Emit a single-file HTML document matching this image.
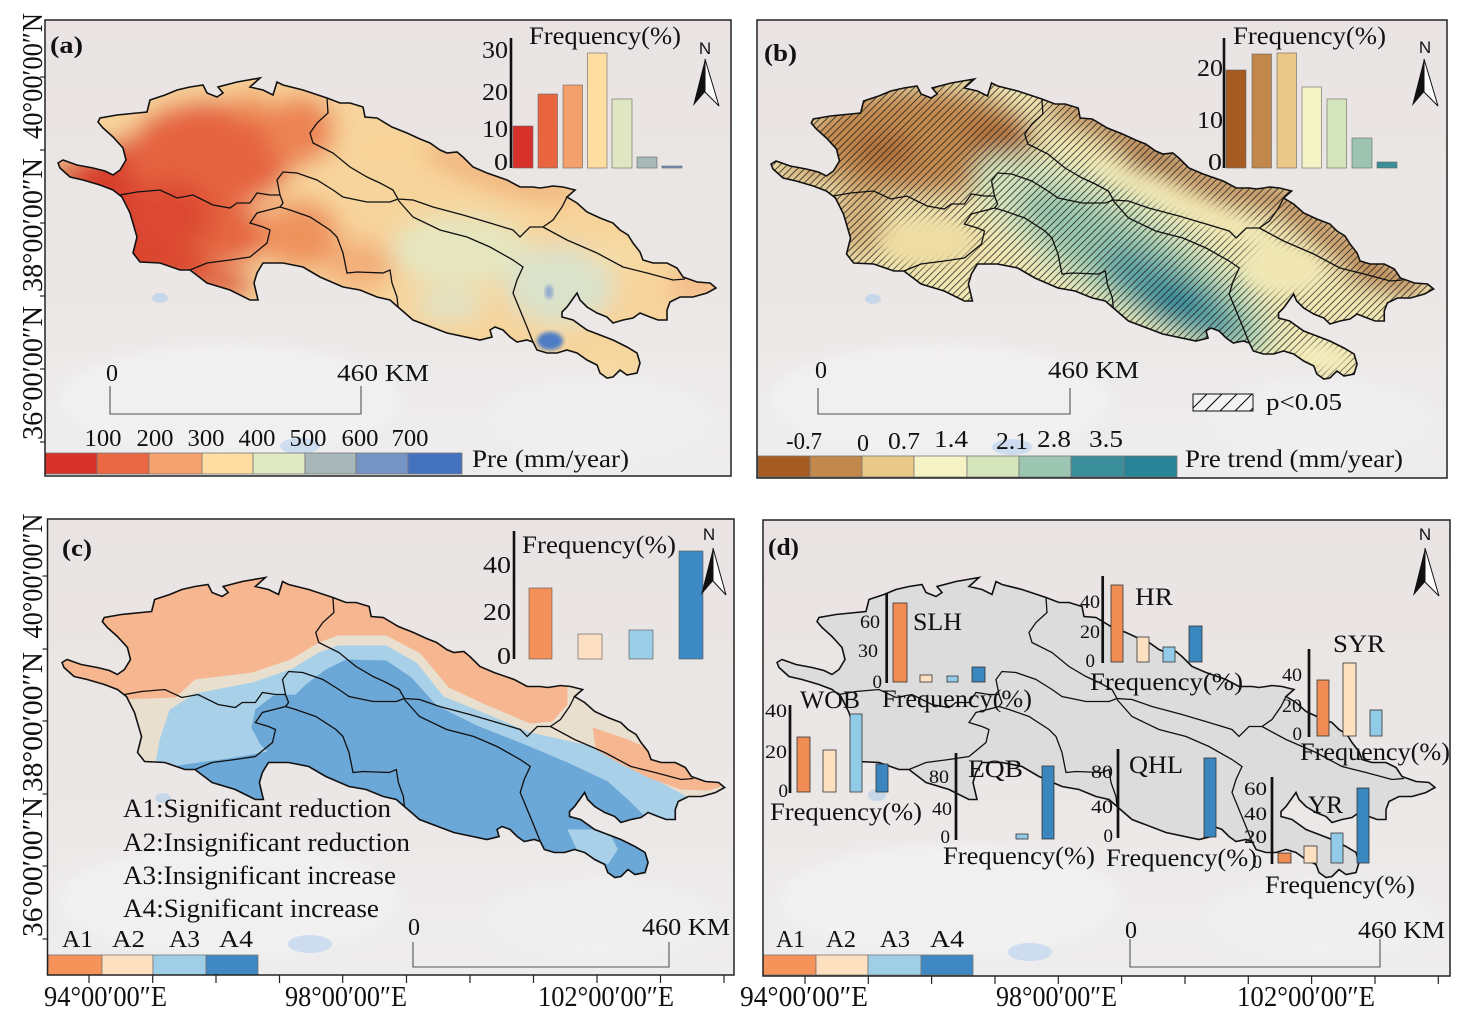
<!DOCTYPE html>
<html><head><meta charset="utf-8">
<style>
html,body{margin:0;padding:0;background:#fff}
svg{display:block}
text{font-family:"Liberation Serif",serif;fill:#111}
.sans{font-family:"Liberation Sans",sans-serif}
</style></head>
<body>
<svg width="1472" height="1029" viewBox="0 0 1472 1029" xmlns="http://www.w3.org/2000/svg">
<defs>
<path id="basin" d="M58,163 L63,160 L77,165 L93,168 L105,171 L113,175 L120,170 L126,160 L123,148 L113,137 L103,128 L98,122 L100,118 L117,115 L137,113 L147,112 L150,100 L165,95 L177,90 L190,87 L203,85 L207,93 L217,97 L223,93 L218,87 L237,82 L260,78 L250,87 L263,90 L273,95 L277,82 L283,85 L303,90 L327,98 L340,103 L350,103 L363,107 L365,117 L377,118 L392,127 L407,133 L420,139 L430,143 L440,150 L447,153 L457,152 L463,157 L473,167 L487,173 L507,180 L520,187 L533,187 L540,188 L547,187 L553,186 L563,187 L575,190 L567,197 L577,203 L587,212 L600,218 L613,223 L620,230 L628,235 L633,243 L640,252 L643,260 L653,263 L667,263 L677,268 L683,277 L697,282 L710,283 L716,288 L707,293 L693,297 L680,297 L670,302 L667,310 L667,320 L658,320 L650,317 L640,313 L633,318 L623,320 L613,323 L607,317 L597,313 L587,307 L580,300 L577,293 L572,300 L567,307 L562,312 L562,317 L573,320 L587,330 L600,335 L613,340 L627,347 L637,353 L640,363 L637,373 L627,375 L620,370 L613,377 L607,378 L600,373 L597,365 L587,360 L577,353 L567,350 L557,353 L547,353 L537,350 L533,342 L527,340 L517,342 L510,337 L503,330 L495,327 L490,330 L492,337 L480,340 L447,333 L413,320 L398,307 L390,300 L377,297 L360,290 L343,287 L320,277 L303,267 L283,263 L263,263 L257,273 L254,283 L258,300 L250,300 L230,290 L207,283 L190,270 L180,270 L160,263 L140,262 L133,253 L137,237 L130,213 L122,197 L113,190 L100,185 L83,180 L70,177 L60,168 Z"/>
<path id="sub" d="M120,195 L137,192 L160,190 L177,198 L193,195 L213,205 L230,208 L237,203 L250,203 L257,193 L270,195 L280,195 L277,180 L283,172 L297,173 L317,180 L333,190 L343,197 L367,202 L390,202 L398,199 M327,98 L328,113 L317,123 L310,133 L313,143 L333,153 L350,167 L367,177 L380,183 L393,190 L398,199 L413,200 L433,207 L463,215 L490,223 L513,230 L520,237 L530,227 L543,227 L553,220 L562,207 L567,197 M543,227 L567,240 L597,253 L623,267 L647,273 L673,280 L685,279 M398,200 L413,217 L440,230 L467,237 L490,247 L513,260 L523,267 L517,280 L513,293 L520,310 L527,327 L533,342 M280,195 L283,203 L280,207 L257,213 L250,223 L263,227 L270,230 L267,243 L250,257 L230,260 L207,263 L190,270 M280,207 L290,210 L310,217 L330,230 L337,237 L343,253 L347,273 L357,272 L383,273 L390,270 L392,283 L397,297 L398,307"/>
<clipPath id="bclip"><use href="#basin"/></clipPath>
<filter id="bl" x="-20%" y="-20%" width="140%" height="140%"><feGaussianBlur stdDeviation="12"/></filter>
<filter id="bl2" x="-30%" y="-30%" width="160%" height="160%"><feGaussianBlur stdDeviation="6"/></filter>
<filter id="bl3"><feGaussianBlur stdDeviation="2"/></filter>
<linearGradient id="bg" x1="0" y1="0" x2="0" y2="1">
<stop offset="0" stop-color="#e9e4e3"/><stop offset="0.6" stop-color="#ebe7e6"/><stop offset="1" stop-color="#eeedee"/>
</linearGradient>
<pattern id="hatch" patternUnits="userSpaceOnUse" width="7" height="7">
<path d="M-1,1 L1,-1 M0,7 L7,0 M6,8 L8,6" stroke="#1a1a1a" stroke-width="0.85"/>
</pattern>
<mask id="hm" maskUnits="userSpaceOnUse" x="0" y="0" width="800" height="450">
<rect x="0" y="0" width="800" height="450" fill="#fff"/>
<g filter="url(#bl2)" fill="#000">
<ellipse cx="212" cy="240" rx="48" ry="24"/>
<ellipse cx="470" cy="203" rx="105" ry="14" transform="rotate(24 470 203)"/>
<ellipse cx="565" cy="268" rx="42" ry="26"/>
<ellipse cx="605" cy="357" rx="28" ry="14"/>
</g>
</mask>
<clipPath id="hbox"><rect x="1193" y="394" width="60" height="17"/></clipPath>
</defs>

<rect width="1472" height="1029" fill="#fff"/>

<!-- ================= PANEL A ================= -->
<rect x="45" y="20" width="686" height="456" fill="url(#bg)"/>
<g opacity="0.6" filter="url(#bl2)">
<ellipse cx="230" cy="400" rx="170" ry="55" fill="#f5f4f5"/>
<ellipse cx="600" cy="420" rx="110" ry="40" fill="#f3f2f3"/>
</g>
<ellipse cx="160" cy="298" rx="8" ry="5" fill="#c7d7ea"/>
<ellipse cx="300" cy="446" rx="20" ry="8" fill="#cddcee"/>
<g clip-path="url(#bclip)">
<g filter="url(#bl)">
<rect x="40" y="60" width="700" height="330" fill="#f7d49b"/>
<ellipse cx="120" cy="215" rx="55" ry="75" fill="#d8402d"/>
<ellipse cx="85" cy="172" rx="40" ry="14" fill="#d8412e"/>
<ellipse cx="175" cy="265" rx="40" ry="25" fill="#da472f"/>
<ellipse cx="210" cy="155" rx="85" ry="55" fill="#e5643f"/>
<ellipse cx="300" cy="130" rx="35" ry="35" fill="#ec8453"/>
<ellipse cx="250" cy="105" rx="22" ry="14" fill="#f0975f"/>
<ellipse cx="225" cy="235" rx="45" ry="30" fill="#e4653f"/>
<ellipse cx="170" cy="215" rx="42" ry="35" fill="#dc4a32"/>
<ellipse cx="225" cy="285" rx="30" ry="14" fill="#dd4e33"/>
<ellipse cx="300" cy="235" rx="40" ry="35" fill="#ef935d"/>
<ellipse cx="360" cy="265" rx="35" ry="25" fill="#f3ae78"/>
<ellipse cx="390" cy="150" rx="45" ry="25" fill="#f8d49a"/>
<path d="M430,150 L470,168 L510,183 L570,195" fill="none" stroke="#eea06c" stroke-width="16"/>
<ellipse cx="460" cy="250" rx="70" ry="35" fill="#e5e6c0"/>
<ellipse cx="450" cy="305" rx="35" ry="15" fill="#dfe3c6"/>
<ellipse cx="560" cy="285" rx="55" ry="40" fill="#dae2cb"/>
<ellipse cx="625" cy="255" rx="35" ry="14" fill="#f7dca5"/>
<ellipse cx="695" cy="287" rx="28" ry="13" fill="#f3b585"/>
<ellipse cx="610" cy="360" rx="30" ry="15" fill="#f6d9a2"/>
</g>
<ellipse cx="550" cy="341" rx="13" ry="9" fill="#4d7bc4" filter="url(#bl3)"/>
<ellipse cx="549" cy="292" rx="4" ry="7" fill="#8aa6cf" filter="url(#bl3)"/>
</g>
<use href="#sub" fill="none" stroke="#111" stroke-width="1.3"/>
<use href="#basin" fill="none" stroke="#111" stroke-width="1.6"/>

<!-- inset a -->
<g stroke="#666" stroke-width="0.6">
<rect x="513" y="126" width="20" height="42" fill="#d7312b"/>
<rect x="538" y="94" width="19.5" height="74" fill="#e8653f"/>
<rect x="563" y="85" width="19.5" height="83" fill="#f4a06c"/>
<rect x="587.5" y="53" width="19.5" height="115" fill="#fddda0"/>
<rect x="612" y="99" width="20" height="69" fill="#dfe6c1"/>
<rect x="637" y="157" width="20" height="11" fill="#a8b8b9"/>
<rect x="662" y="166" width="20" height="2" fill="#7393c2"/>
</g>
<line x1="511" y1="38" x2="511" y2="168" stroke="#111" stroke-width="2.6"/>
<g font-size="24" text-anchor="end">
<text x="508" y="58" textLength="26" lengthAdjust="spacingAndGlyphs">30</text>
<text x="508" y="100" textLength="26" lengthAdjust="spacingAndGlyphs">20</text>
<text x="508" y="137" textLength="26" lengthAdjust="spacingAndGlyphs">10</text>
<text x="508" y="170" textLength="14" lengthAdjust="spacingAndGlyphs">0</text>
</g>
<text x="529" y="44" font-size="25" textLength="152" lengthAdjust="spacingAndGlyphs">Frequency(%)</text>

<!-- north arrow a -->
<text x="705" y="54" font-size="17" class="sans" text-anchor="middle">N</text>
<polygon points="705,59 693,106 705,92" fill="#111"/>
<polygon points="705,59 719,106 705,92" fill="#fff" stroke="#111" stroke-width="1"/>

<text x="50" y="53" font-size="24" font-weight="bold" textLength="33" lengthAdjust="spacingAndGlyphs">(a)</text>

<!-- scale bar a -->
<path d="M110,386 L110,414 L361,414 L361,386" fill="none" stroke="#555" stroke-width="1.1"/>
<text x="106" y="381" font-size="24">0</text>
<text x="337" y="381" font-size="24" textLength="92" lengthAdjust="spacingAndGlyphs">460 KM</text>

<!-- colorbar a -->
<g stroke="#777" stroke-width="0.8">
<rect x="45" y="453" width="52" height="21" fill="#d7312b"/>
<rect x="97" y="453" width="52" height="21" fill="#ea6944"/>
<rect x="149" y="453" width="53" height="21" fill="#f5a26f"/>
<rect x="202" y="453" width="51" height="21" fill="#fddea0"/>
<rect x="253" y="453" width="52" height="21" fill="#e1e8c4"/>
<rect x="305" y="453" width="51" height="21" fill="#a8b8b8"/>
<rect x="356" y="453" width="52" height="21" fill="#7594c3"/>
<rect x="408" y="453" width="54" height="21" fill="#4572bf"/>
</g>
<g font-size="24" text-anchor="middle">
<text x="103" y="446" textLength="37" lengthAdjust="spacingAndGlyphs">100</text>
<text x="155" y="446" textLength="37" lengthAdjust="spacingAndGlyphs">200</text>
<text x="206" y="446" textLength="37" lengthAdjust="spacingAndGlyphs">300</text>
<text x="257" y="446" textLength="37" lengthAdjust="spacingAndGlyphs">400</text>
<text x="308" y="446" textLength="37" lengthAdjust="spacingAndGlyphs">500</text>
<text x="360" y="446" textLength="37" lengthAdjust="spacingAndGlyphs">600</text>
<text x="410" y="446" textLength="37" lengthAdjust="spacingAndGlyphs">700</text>
</g>
<text x="472" y="467" font-size="25" textLength="157" lengthAdjust="spacingAndGlyphs">Pre (mm/year)</text>

<rect x="45" y="20" width="686" height="456" fill="none" stroke="#222" stroke-width="1.5"/>
<g stroke="#222" stroke-width="1.2">
<line x1="40" y1="77" x2="45" y2="77"/><line x1="40" y1="150" x2="45" y2="150"/>
<line x1="40" y1="223" x2="45" y2="223"/><line x1="40" y1="296" x2="45" y2="296"/>
<line x1="40" y1="369" x2="45" y2="369"/><line x1="40" y1="442" x2="45" y2="442"/>
</g>
<g font-size="28" text-anchor="middle">
<text transform="translate(42,76) rotate(-90)" textLength="126" lengthAdjust="spacingAndGlyphs">40°00′00″N</text>
<text transform="translate(42,225) rotate(-90)" textLength="134" lengthAdjust="spacingAndGlyphs">38°00′00″N</text>
<text transform="translate(42,373) rotate(-90)" textLength="134" lengthAdjust="spacingAndGlyphs">36°00′00″N</text>
</g>

<!-- ================= PANEL B ================= -->
<rect x="757" y="20" width="690" height="458" fill="url(#bg)"/>
<g opacity="0.6" filter="url(#bl2)">
<ellipse cx="940" cy="400" rx="170" ry="55" fill="#f5f4f5"/>
<ellipse cx="1320" cy="420" rx="110" ry="40" fill="#f3f2f3"/>
</g>
<ellipse cx="873" cy="299" rx="8" ry="5" fill="#c7d7ea"/>
<ellipse cx="1012" cy="447" rx="20" ry="8" fill="#cddcee"/>
<g transform="matrix(1.007,0,0,1,712.6,1)">
<g clip-path="url(#bclip)">
<g filter="url(#bl)">
<rect x="40" y="60" width="700" height="330" fill="#f1e7b4"/>
<ellipse cx="205" cy="140" rx="115" ry="55" fill="#c38a50"/>
<ellipse cx="170" cy="150" rx="30" ry="18" fill="#ad6d37"/>
<ellipse cx="285" cy="138" rx="35" ry="20" fill="#ad6b35"/>
<ellipse cx="95" cy="172" rx="40" ry="12" fill="#cfa36b"/>
<ellipse cx="145" cy="220" rx="28" ry="38" fill="#d6b27a"/>
<ellipse cx="215" cy="242" rx="55" ry="28" fill="#eedca2"/>
<ellipse cx="410" cy="255" rx="175" ry="55" transform="rotate(32 410 255)" fill="#d2e3bd"/>
<ellipse cx="425" cy="268" rx="140" ry="36" transform="rotate(32 425 268)" fill="#98c6ae"/>
<ellipse cx="455" cy="295" rx="80" ry="24" transform="rotate(32 455 295)" fill="#5a9fa3"/>
<ellipse cx="457" cy="302" rx="30" ry="15" fill="#2d8696"/>
<path d="M335,105 L365,113 L395,128 L430,148 L470,172 L510,188 L560,196 L600,225 L635,252 L670,275 L705,288" fill="none" stroke="#b87a42" stroke-width="26" stroke-linejoin="round"/>
<ellipse cx="440" cy="158" rx="30" ry="11" fill="#a5642e"/>
<ellipse cx="660" cy="276" rx="30" ry="9" fill="#ad6e36"/>
<ellipse cx="605" cy="355" rx="30" ry="15" fill="#f3ecbd"/>
</g>
<rect x="40" y="60" width="700" height="330" fill="url(#hatch)" mask="url(#hm)" opacity="0.85"/>
</g>
<use href="#sub" fill="none" stroke="#111" stroke-width="1.3"/>
<use href="#basin" fill="none" stroke="#111" stroke-width="1.6"/>
</g>

<!-- inset b -->
<g stroke="#666" stroke-width="0.6">
<rect x="1226" y="70" width="20" height="98" fill="#a65b23"/>
<rect x="1252" y="54" width="19.5" height="114" fill="#c2874b"/>
<rect x="1277" y="53" width="19.5" height="115" fill="#e9c888"/>
<rect x="1302" y="87" width="19.5" height="81" fill="#f4f3c6"/>
<rect x="1327" y="99" width="19.5" height="69" fill="#d4e5bb"/>
<rect x="1352" y="138" width="20" height="30" fill="#9cc4b1"/>
<rect x="1377" y="162" width="20" height="6" fill="#3a8f99"/>
</g>
<line x1="1224" y1="38" x2="1224" y2="168" stroke="#111" stroke-width="2.6"/>
<g font-size="24" text-anchor="end">
<text x="1223" y="76" textLength="26" lengthAdjust="spacingAndGlyphs">20</text>
<text x="1223" y="128" textLength="26" lengthAdjust="spacingAndGlyphs">10</text>
<text x="1222" y="170" textLength="14" lengthAdjust="spacingAndGlyphs">0</text>
</g>
<text x="1233" y="44" font-size="25" textLength="153" lengthAdjust="spacingAndGlyphs">Frequency(%)</text>

<text x="1425" y="53" font-size="17" class="sans" text-anchor="middle">N</text>
<polygon points="1424,59 1412,106 1424,92" fill="#111"/>
<polygon points="1424,59 1438,106 1424,92" fill="#fff" stroke="#111" stroke-width="1"/>

<text x="764" y="61" font-size="24" font-weight="bold" textLength="33" lengthAdjust="spacingAndGlyphs">(b)</text>

<path d="M818,388 L818,414 L1070,414 L1070,388" fill="none" stroke="#555" stroke-width="1.1"/>
<text x="815" y="378" font-size="24">0</text>
<text x="1048" y="378" font-size="24" textLength="91" lengthAdjust="spacingAndGlyphs">460 KM</text>

<rect x="1193" y="394" width="60" height="17" fill="#fff" fill-opacity="0.3"/>
<g clip-path="url(#hbox)" stroke="#111" stroke-width="1.1">
<line x1="1190" y1="411" x2="1207" y2="394"/><line x1="1205" y1="411" x2="1222" y2="394"/>
<line x1="1220" y1="411" x2="1237" y2="394"/><line x1="1235" y1="411" x2="1252" y2="394"/>
<line x1="1250" y1="411" x2="1267" y2="394"/>
</g>
<rect x="1193" y="394" width="60" height="17" fill="none" stroke="#111" stroke-width="1"/>
<text x="1266" y="410" font-size="24" textLength="76" lengthAdjust="spacingAndGlyphs">p&lt;0.05</text>

<g stroke="#777" stroke-width="0.8">
<rect x="758" y="456" width="52" height="21" fill="#a65b23"/>
<rect x="810" y="456" width="52" height="21" fill="#c3884c"/>
<rect x="862" y="456" width="52" height="21" fill="#eac988"/>
<rect x="914" y="456" width="53" height="21" fill="#f5f3c6"/>
<rect x="967" y="456" width="52" height="21" fill="#d5e6bc"/>
<rect x="1019" y="456" width="52" height="21" fill="#9cc5b2"/>
<rect x="1071" y="456" width="53" height="21" fill="#3a8f9a"/>
<rect x="1124" y="456" width="53" height="21" fill="#2a8497"/>
</g>
<g font-size="24" text-anchor="middle">
<text x="804" y="449" textLength="36" lengthAdjust="spacingAndGlyphs">-0.7</text>
<text x="863" y="451">0</text>
<text x="904" y="449" textLength="32" lengthAdjust="spacingAndGlyphs">0.7</text>
<text x="951" y="447" textLength="34" lengthAdjust="spacingAndGlyphs">1.4</text>
<text x="1012" y="449" textLength="32" lengthAdjust="spacingAndGlyphs">2.1</text>
<text x="1054" y="447" textLength="34" lengthAdjust="spacingAndGlyphs">2.8</text>
<text x="1106" y="447" textLength="34" lengthAdjust="spacingAndGlyphs">3.5</text>
</g>
<text x="1185" y="467" font-size="25" textLength="218" lengthAdjust="spacingAndGlyphs">Pre trend (mm/year)</text>

<rect x="757" y="20" width="690" height="458" fill="none" stroke="#222" stroke-width="1.5"/>

<!-- ================= PANEL C ================= -->
<rect x="47.5" y="519" width="686.5" height="456" fill="url(#bg)"/>
<g opacity="0.6" filter="url(#bl2)">
<ellipse cx="230" cy="900" rx="170" ry="55" fill="#f5f4f5"/>
<ellipse cx="600" cy="920" rx="110" ry="40" fill="#f3f2f3"/>
</g>
<ellipse cx="163" cy="798" rx="8" ry="5" fill="#c7d7ea"/>
<ellipse cx="310" cy="944" rx="22" ry="9" fill="#cddcee"/>
<g transform="matrix(1.007,0,0,1,3.6,499.5)">
<g clip-path="url(#bclip)">
<rect x="40" y="60" width="700" height="330" fill="#6ba7d7"/>
<polygon fill="#a8d0e8" points="30,30 730,30 730,345 690,345 650,330 620,300 600,282 560,263 520,246 470,226 430,206 405,178 380,161 340,160 320,170 300,185 290,195 268,196 250,210 246,228 255,245 262,252 230,258 180,265 140,272 130,295 30,295"/>
<polygon fill="#e9dfcf" points="30,30 730,30 730,312 700,300 680,298 640,276 610,262 580,246 550,239 523,233 476,213 437,197 410,163 380,146 332,146 313,153 285,170 247,183 190,194 165,210 155,240 150,268 30,275"/>
<polygon fill="#f6b690" points="30,30 560,30 560,205 545,222 523,224 476,204 442,188 414,154 380,136 332,136 313,143 285,160 247,173 190,180 171,198 116,200 30,205"/>
<polygon fill="#f6b690" points="585,228 620,240 660,258 700,272 725,283 700,291 672,290 640,278 612,264 588,250"/>
<polygon fill="#a8d0e8" points="560,330 600,330 610,350 600,365 570,352"/>
</g>
<use href="#sub" fill="none" stroke="#111" stroke-width="1.3"/>
<use href="#basin" fill="none" stroke="#111" stroke-width="1.6"/>
</g>

<!-- inset c -->
<g stroke="#555" stroke-width="0.6">
<rect x="529" y="588" width="23" height="71" fill="#f4905a"/>
<rect x="578" y="634" width="24" height="25" fill="#fde0c1"/>
<rect x="629" y="630" width="24" height="29" fill="#9bcfe8"/>
<rect x="679" y="551" width="24" height="108" fill="#3c89c3"/>
</g>
<line x1="514" y1="531" x2="514" y2="659" stroke="#111" stroke-width="2.6"/>
<g font-size="24" text-anchor="end">
<text x="511" y="573" textLength="28" lengthAdjust="spacingAndGlyphs">40</text>
<text x="511" y="620" textLength="28" lengthAdjust="spacingAndGlyphs">20</text>
<text x="511" y="664" textLength="14" lengthAdjust="spacingAndGlyphs">0</text>
</g>
<text x="522" y="553" font-size="25" textLength="154" lengthAdjust="spacingAndGlyphs">Frequency(%)</text>

<text x="709" y="540" font-size="17" class="sans" text-anchor="middle">N</text>
<polygon points="713,548 701,595 713,581" fill="#111"/>
<polygon points="713,548 726,595 713,581" fill="#fff" stroke="#111" stroke-width="1"/>

<text x="62" y="556" font-size="24" font-weight="bold" textLength="30" lengthAdjust="spacingAndGlyphs">(c)</text>

<g font-size="26">
<text x="123" y="817" textLength="268" lengthAdjust="spacingAndGlyphs">A1:Significant reduction</text>
<text x="123" y="851" textLength="287" lengthAdjust="spacingAndGlyphs">A2:Insignificant reduction</text>
<text x="123" y="884" textLength="273" lengthAdjust="spacingAndGlyphs">A3:Insignificant increase</text>
<text x="123" y="917" textLength="256" lengthAdjust="spacingAndGlyphs">A4:Significant increase</text>
</g>

<path d="M413,942 L413,967 L669,967 L669,942" fill="none" stroke="#555" stroke-width="1.1"/>
<text x="408" y="935" font-size="24">0</text>
<text x="642" y="935" font-size="24" textLength="88" lengthAdjust="spacingAndGlyphs">460 KM</text>

<g stroke="#777" stroke-width="0.8">
<rect x="48" y="955" width="54" height="20" fill="#f5935b"/>
<rect x="102" y="955" width="51" height="20" fill="#fde0c0"/>
<rect x="153" y="955" width="53" height="20" fill="#9ecfe7"/>
<rect x="206" y="955" width="52" height="20" fill="#3f88c3"/>
</g>
<g font-size="24">
<text x="62" y="947" textLength="31" lengthAdjust="spacingAndGlyphs">A1</text>
<text x="112" y="947" textLength="33" lengthAdjust="spacingAndGlyphs">A2</text>
<text x="169" y="947" textLength="31" lengthAdjust="spacingAndGlyphs">A3</text>
<text x="219" y="947" textLength="34" lengthAdjust="spacingAndGlyphs">A4</text>
</g>

<rect x="47.5" y="519" width="686.5" height="456" fill="none" stroke="#222" stroke-width="1.5"/>
<g stroke="#222" stroke-width="1.2">
<line x1="42.5" y1="576" x2="47.5" y2="576"/><line x1="42.5" y1="649" x2="47.5" y2="649"/>
<line x1="42.5" y1="721" x2="47.5" y2="721"/><line x1="42.5" y1="794" x2="47.5" y2="794"/>
<line x1="42.5" y1="866" x2="47.5" y2="866"/><line x1="42.5" y1="939" x2="47.5" y2="939"/>
<line x1="89" y1="975" x2="89" y2="983"/><line x1="152.7" y1="975" x2="152.7" y2="983"/>
<line x1="216" y1="975" x2="216" y2="983"/><line x1="279.5" y1="975" x2="279.5" y2="983"/>
<line x1="342.7" y1="975" x2="342.7" y2="983"/><line x1="406.5" y1="975" x2="406.5" y2="983"/>
<line x1="470" y1="975" x2="470" y2="983"/><line x1="533.5" y1="975" x2="533.5" y2="983"/>
<line x1="597" y1="975" x2="597" y2="983"/><line x1="660.5" y1="975" x2="660.5" y2="983"/>
<line x1="724" y1="975" x2="724" y2="983"/>
</g>
<g font-size="28" text-anchor="middle">
<text transform="translate(42,576) rotate(-90)" textLength="125" lengthAdjust="spacingAndGlyphs">40°00′00″N</text>
<text transform="translate(42,722) rotate(-90)" textLength="140" lengthAdjust="spacingAndGlyphs">38°00′00″N</text>
<text transform="translate(42,867) rotate(-90)" textLength="140" lengthAdjust="spacingAndGlyphs">36°00′00″N</text>
</g>
<g font-size="28">
<text x="44" y="1006" textLength="123" lengthAdjust="spacingAndGlyphs">94°00′00″E</text>
<text x="285" y="1006" textLength="122" lengthAdjust="spacingAndGlyphs">98°00′00″E</text>
<text x="538" y="1006" textLength="136" lengthAdjust="spacingAndGlyphs">102°00′00″E</text>
</g>

<!-- ================= PANEL D ================= -->
<rect x="763" y="520" width="687" height="456" fill="url(#bg)"/>
<g opacity="0.6" filter="url(#bl2)">
<ellipse cx="950" cy="900" rx="170" ry="55" fill="#f5f4f5"/>
<ellipse cx="1320" cy="920" rx="110" ry="40" fill="#f3f2f3"/>
</g>
<ellipse cx="877" cy="795" rx="9" ry="6" fill="#c7d7ea"/>
<ellipse cx="1030" cy="952" rx="22" ry="9" fill="#cddcee"/>
<g transform="translate(719,499.5)">
<use href="#basin" fill="#dcdcdc" stroke="none"/>
<use href="#sub" fill="none" stroke="#111" stroke-width="1.3"/>
<use href="#basin" fill="none" stroke="#111" stroke-width="1.6"/>
</g>

<!-- charts d -->
<g stroke="#333" stroke-width="0.8">
<rect x="893" y="603" width="14" height="79" fill="#f08d55"/>
<rect x="920" y="675" width="12" height="7" fill="#fde0c0"/>
<rect x="947" y="676" width="11" height="6" fill="#92cbe7"/>
<rect x="972" y="667" width="13" height="15" fill="#3a87c0"/>
<rect x="797" y="737" width="13" height="55" fill="#f08d55"/>
<rect x="823" y="750" width="13" height="42" fill="#fde0c0"/>
<rect x="850" y="714" width="12" height="78" fill="#92cbe7"/>
<rect x="876" y="764" width="12" height="28" fill="#3a87c0"/>
<rect x="1016" y="834" width="12" height="5" fill="#92cbe7"/>
<rect x="1042" y="766" width="12" height="73" fill="#3a87c0"/>
<rect x="1111" y="585" width="12" height="77" fill="#f08d55"/>
<rect x="1137" y="637" width="12" height="25" fill="#fde0c0"/>
<rect x="1163" y="647" width="12" height="15" fill="#92cbe7"/>
<rect x="1189" y="626" width="13" height="36" fill="#3a87c0"/>
<rect x="1317" y="680" width="12" height="56" fill="#f08d55"/>
<rect x="1343" y="663" width="13" height="73" fill="#fde0c0"/>
<rect x="1370" y="710" width="12" height="26" fill="#92cbe7"/>
<rect x="1204" y="758" width="12" height="79" fill="#3a87c0"/>
<rect x="1278" y="853" width="13" height="10" fill="#f08d55"/>
<rect x="1304" y="846" width="13" height="17" fill="#fde0c0"/>
<rect x="1331" y="833" width="12" height="30" fill="#92cbe7"/>
<rect x="1357" y="788" width="12" height="75" fill="#3a87c0"/>
</g>
<g stroke="#111" stroke-width="2.7">
<line x1="886.7" y1="593" x2="886.7" y2="683"/>
<line x1="790" y1="705" x2="790" y2="793"/>
<line x1="956" y1="753" x2="956" y2="840"/>
<line x1="1102.7" y1="576" x2="1102.7" y2="663"/>
<line x1="1309" y1="649" x2="1309" y2="737"/>
<line x1="1118" y1="749" x2="1118" y2="838"/>
<line x1="1272" y1="777" x2="1272" y2="864"/>
</g>
<g font-size="19" text-anchor="end">
<text x="880" y="628" textLength="20" lengthAdjust="spacingAndGlyphs">60</text>
<text x="878" y="657" textLength="20" lengthAdjust="spacingAndGlyphs">30</text>
<text x="882" y="688">0</text>
<text x="787" y="717" textLength="22" lengthAdjust="spacingAndGlyphs">40</text>
<text x="787" y="758" textLength="22" lengthAdjust="spacingAndGlyphs">20</text>
<text x="788" y="797">0</text>
<text x="949" y="783" textLength="20" lengthAdjust="spacingAndGlyphs">80</text>
<text x="952" y="815" textLength="20" lengthAdjust="spacingAndGlyphs">40</text>
<text x="950" y="843">0</text>
<text x="1100" y="608" textLength="20" lengthAdjust="spacingAndGlyphs">40</text>
<text x="1100" y="638" textLength="20" lengthAdjust="spacingAndGlyphs">20</text>
<text x="1095" y="667">0</text>
<text x="1302" y="681" textLength="20" lengthAdjust="spacingAndGlyphs">40</text>
<text x="1302" y="712" textLength="20" lengthAdjust="spacingAndGlyphs">20</text>
<text x="1302" y="740">0</text>
<text x="1113" y="778" textLength="22" lengthAdjust="spacingAndGlyphs">80</text>
<text x="1113" y="813" textLength="22" lengthAdjust="spacingAndGlyphs">40</text>
<text x="1113" y="842">0</text>
<text x="1267" y="795" textLength="23" lengthAdjust="spacingAndGlyphs">60</text>
<text x="1267" y="820" textLength="23" lengthAdjust="spacingAndGlyphs">40</text>
<text x="1267" y="843" textLength="23" lengthAdjust="spacingAndGlyphs">20</text>
<text x="1262" y="868">0</text>
</g>
<g font-size="25">
<text x="913" y="630" textLength="49" lengthAdjust="spacingAndGlyphs">SLH</text>
<text x="800" y="708" textLength="60" lengthAdjust="spacingAndGlyphs">WOB</text>
<text x="968" y="777" textLength="55" lengthAdjust="spacingAndGlyphs">EQB</text>
<text x="1135" y="605" textLength="38" lengthAdjust="spacingAndGlyphs">HR</text>
<text x="1333" y="652" textLength="52" lengthAdjust="spacingAndGlyphs">SYR</text>
<text x="1129" y="773" textLength="54" lengthAdjust="spacingAndGlyphs">QHL</text>
<text x="1308" y="813" textLength="35" lengthAdjust="spacingAndGlyphs">YR</text>
<text x="882" y="707" textLength="150" lengthAdjust="spacingAndGlyphs">Frequency(%)</text>
<text x="770" y="820" textLength="152" lengthAdjust="spacingAndGlyphs">Frequency(%)</text>
<text x="943" y="864" textLength="152" lengthAdjust="spacingAndGlyphs">Frequency(%)</text>
<text x="1090" y="690" textLength="153" lengthAdjust="spacingAndGlyphs">Frequency(%)</text>
<text x="1300" y="760" textLength="150" lengthAdjust="spacingAndGlyphs">Frequency(%)</text>
<text x="1106" y="866" textLength="151" lengthAdjust="spacingAndGlyphs">Frequency(%)</text>
<text x="1265" y="893" textLength="150" lengthAdjust="spacingAndGlyphs">Frequency(%)</text>
</g>

<text x="1425" y="540" font-size="17" class="sans" text-anchor="middle">N</text>
<polygon points="1425,548 1413,596 1425,582" fill="#111"/>
<polygon points="1425,548 1439,596 1425,582" fill="#fff" stroke="#111" stroke-width="1"/>

<text x="768" y="555" font-size="24" font-weight="bold" textLength="31" lengthAdjust="spacingAndGlyphs">(d)</text>

<path d="M1130,939 L1130,967 L1380,967 L1380,939" fill="none" stroke="#555" stroke-width="1.1"/>
<text x="1125" y="938" font-size="24">0</text>
<text x="1358" y="938" font-size="24" textLength="87" lengthAdjust="spacingAndGlyphs">460 KM</text>

<g stroke="#777" stroke-width="0.8">
<rect x="763" y="955" width="53" height="20" fill="#f5935b"/>
<rect x="816" y="955" width="52" height="20" fill="#fde0c0"/>
<rect x="868" y="955" width="53" height="20" fill="#9ecfe7"/>
<rect x="921" y="955" width="52" height="20" fill="#3f88c3"/>
</g>
<g font-size="24">
<text x="776" y="947" textLength="29" lengthAdjust="spacingAndGlyphs">A1</text>
<text x="826" y="947" textLength="30" lengthAdjust="spacingAndGlyphs">A2</text>
<text x="880" y="947" textLength="30" lengthAdjust="spacingAndGlyphs">A3</text>
<text x="930" y="947" textLength="34" lengthAdjust="spacingAndGlyphs">A4</text>
</g>

<rect x="763" y="520" width="687" height="456" fill="none" stroke="#222" stroke-width="1.5"/>
<g stroke="#222" stroke-width="1.2">
<line x1="805" y1="976" x2="805" y2="984"/><line x1="868.3" y1="976" x2="868.3" y2="984"/>
<line x1="931.6" y1="976" x2="931.6" y2="984"/><line x1="995" y1="976" x2="995" y2="984"/>
<line x1="1058.3" y1="976" x2="1058.3" y2="984"/><line x1="1121.6" y1="976" x2="1121.6" y2="984"/>
<line x1="1185" y1="976" x2="1185" y2="984"/><line x1="1248.3" y1="976" x2="1248.3" y2="984"/>
<line x1="1311.6" y1="976" x2="1311.6" y2="984"/><line x1="1375" y1="976" x2="1375" y2="984"/>
<line x1="1438.3" y1="976" x2="1438.3" y2="984"/>
</g>
<g font-size="28">
<text x="740" y="1006" textLength="128" lengthAdjust="spacingAndGlyphs">94°00′00″E</text>
<text x="996" y="1006" textLength="121" lengthAdjust="spacingAndGlyphs">98°00′00″E</text>
<text x="1237" y="1006" textLength="138" lengthAdjust="spacingAndGlyphs">102°00′00″E</text>
</g>
</svg>
</body></html>
